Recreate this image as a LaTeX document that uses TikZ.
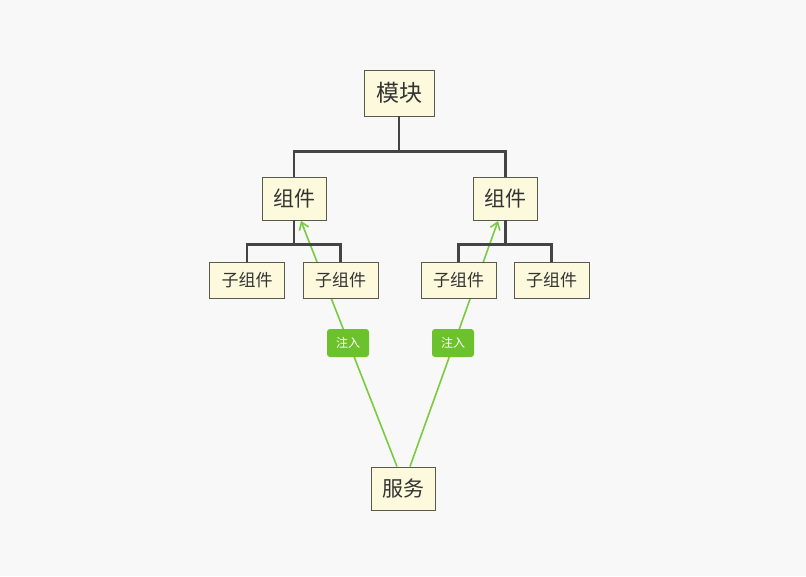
\documentclass[tikz,border=0pt]{standalone}
\usepackage{fontspec}
\setmainfont{Noto Sans CJK SC}
\usetikzlibrary{arrows.meta}
\definecolor{bg}{HTML}{F8F8F8}
\definecolor{boxfill}{HTML}{FDF9DC}
\definecolor{boxline}{HTML}{5A5A4A}
\definecolor{tree}{HTML}{444444}
\definecolor{grn}{HTML}{7ACB3E}
\definecolor{grnlab}{HTML}{6CC22C}
\definecolor{txt}{HTML}{333333}
\tikzset{
  topic/.style={draw=boxline, line width=0.8pt, fill=boxfill, text=txt, inner sep=0pt, anchor=center},
  bigbox/.style={topic, minimum width=70pt, minimum height=46pt, font=\fontsize{23}{25}\selectfont},
  midbox/.style={topic, minimum width=64pt, minimum height=43pt, font=\fontsize{21}{23}\selectfont},
  smallbox/.style={topic, minimum width=75pt, minimum height=36pt, font=\fontsize{17}{19}\selectfont},
  treeline/.style={draw=tree, line width=2.5pt},
  inject/.style={draw=grn, line width=1.6pt, -{Straight Barb[length=7pt,width=10pt]}},
  injlabel/.style={fill=grnlab, text=white, rounded corners=3pt, inner sep=0pt, minimum width=42pt, minimum height=28pt, font=\fontsize{12}{14}\selectfont},
}
\begin{document}
\begin{tikzpicture}[x=1pt,y=-1pt]
\fill[bg] (0,0) rectangle (806,576);
\useasboundingbox (0,0) rectangle (806,576);
% injection connectors (drawn first, behind the boxes)
\coordinate (a1) at (397,466.5);
\coordinate (b1) at (301,221);
\coordinate (a2) at (410,466.5);
\coordinate (b2) at (498,221);
\draw[inject] (a1) -- (b1);
\draw[inject] (a2) -- (b2);
\node[injlabel] (l1) at (348,343) {注入};
\node[injlabel] (l2) at (453,343) {注入};
% boxes
\node[bigbox] (mod) at (399,93) {模块};
\node[midbox] (cl) at (294,198.5) {组件};
\node[midbox] (cr) at (505.5,198.5) {组件};
\node[smallbox] (s1) at (247,280) {子组件};
\node[smallbox] (s2) at (340.5,280) {子组件};
\node[smallbox] (s3) at (458.5,280) {子组件};
\node[smallbox] (s4) at (551.5,280) {子组件};
\node[midbox] (svc) at (403.5,488.5) {服务};
% tree
\draw[treeline] (mod.south) -- ++(0,35) -| (cl.north);
\draw[treeline] (mod.south) ++(0,35) -| (cr.north);
\draw[treeline] (cl.south) -- ++(0,24) -| (s1.north);
\draw[treeline] (cl.south) ++(0,24) -| (s2.north);
\draw[treeline] (cr.south) -- ++(0,24) -| (s3.north);
\draw[treeline] (cr.south) ++(0,24) -| (s4.north);
\end{tikzpicture}
\end{document}
